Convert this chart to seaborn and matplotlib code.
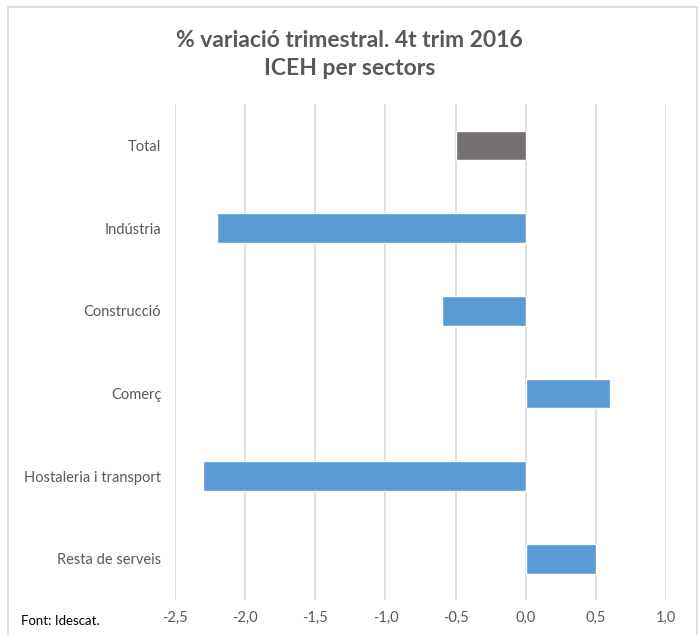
import pandas as pd
import matplotlib.pyplot as plt
import seaborn as sns
from matplotlib.patches import Rectangle
from matplotlib.ticker import FuncFormatter

# Data
sectors = ['Total', 'Indústria', 'Construcció', 'Comerç', 'Hostaleria i transport', 'Resta de serveis']
variacio = [-0.5, -2.2, -0.6, 0.6, -2.3, 0.5]
colors = ['#767171', '#5B9BD5', '#5B9BD5', '#5B9BD5', '#5B9BD5', '#5B9BD5']

df = pd.DataFrame({'sector': sectors, 'valor': variacio})

sns.set_theme(style='white')
plt.rcParams['font.family'] = ['Lato', 'DejaVu Sans']

fig = plt.figure(figsize=(6.99, 6.35), dpi=100)
ax = fig.add_axes([0.2504, 0.055, 0.7024, 0.781])

sns.barplot(data=df, x='valor', y='sector', hue='sector', palette=colors,
            legend=False, width=0.36, saturation=1, ax=ax, zorder=3)

ax.set_xlim(-2.5, 1.0)
ax.set_xticks([-2.5, -2.0, -1.5, -1.0, -0.5, 0.0, 0.5, 1.0])
ax.xaxis.set_major_formatter(FuncFormatter(lambda v, p: f'{v:.1f}'.replace('.', ',')))
ax.grid(axis='x', color='#D9D9D9', linewidth=1.2, zorder=0)
ax.grid(axis='y', visible=False)
for s in ax.spines.values():
    s.set_visible(False)
ax.set_xlabel('')
ax.set_ylabel('')
ax.tick_params(axis='both', length=0, labelsize=10.5, colors='#595959')
ax.tick_params(axis='y', pad=10)
ax.tick_params(axis='x', pad=8)

fig.text(0.5, 0.914, '% variació trimestral. 4t trim 2016\nICEH per sectors',
         ha='center', va='center', fontsize=16.5, fontweight='bold',
         color='#595959', linespacing=1.45)
fig.text(0.03, 0.022, 'Font: Idescat.', ha='left', va='center', fontsize=9.5, color='#000000')

# chart border
fig.patches.append(Rectangle((0.012, -0.01), 0.985, 0.999, transform=fig.transFigure,
                             fill=False, edgecolor='#D9D9D9', linewidth=1.2))

plt.savefig('out.png', dpi=100)
plt.close()
